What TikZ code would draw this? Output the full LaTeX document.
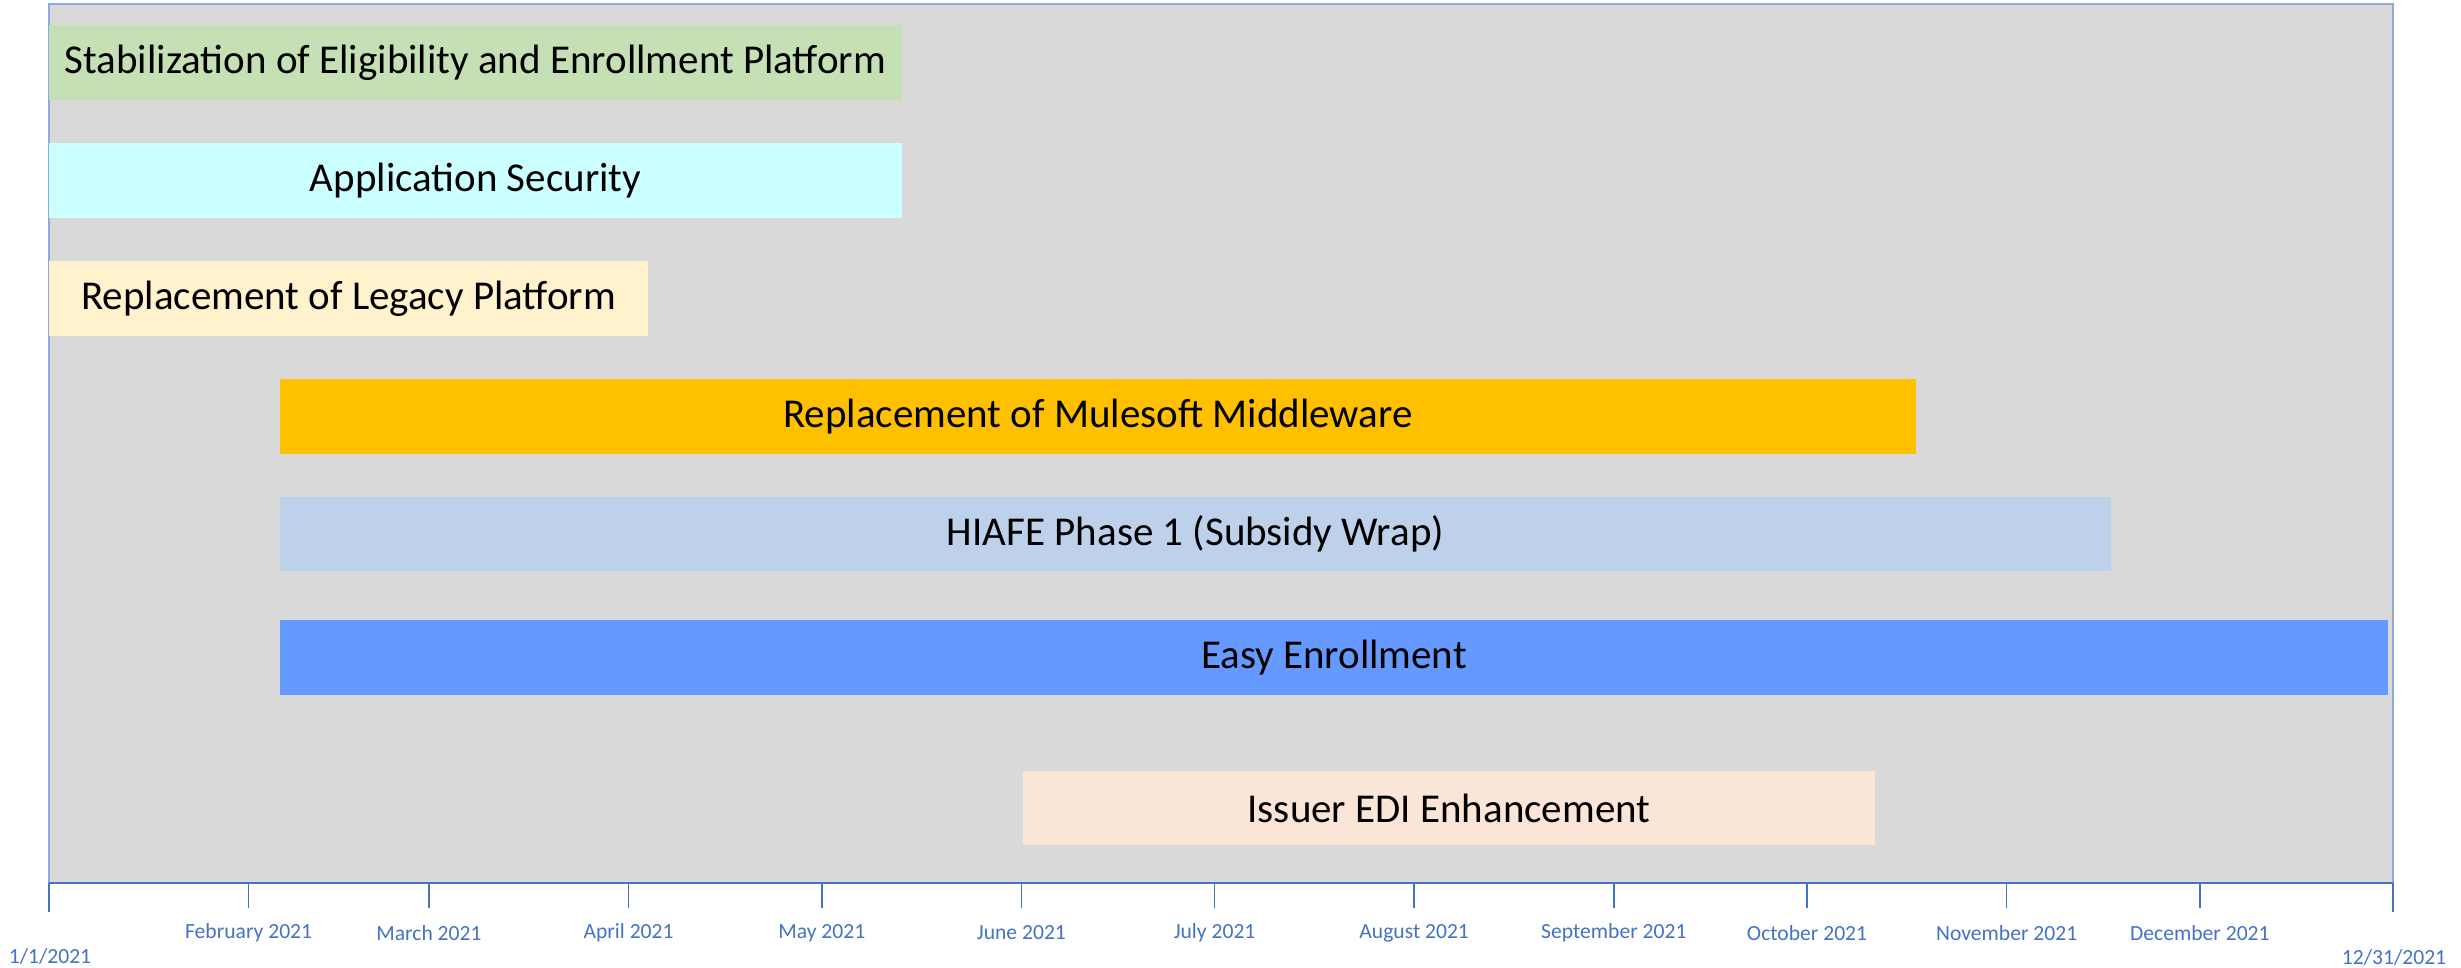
\documentclass[tikz,border=0pt]{standalone}
\usepackage{fontspec}
\setmainfont{Carlito}
\definecolor{bgray}{HTML}{D9D9D9}
\definecolor{frameblue}{HTML}{8FAADC}
\definecolor{axisblue}{HTML}{4472C4}
\definecolor{cgreen}{HTML}{C5E0B4}
\definecolor{ccyan}{HTML}{CCFFFF}
\definecolor{ccream}{HTML}{FFF2CC}
\definecolor{corange}{HTML}{FFC000}
\definecolor{clblue}{HTML}{BDD1EA}
\definecolor{cblue}{HTML}{6699FF}
\definecolor{cpeach}{HTML}{FBE5D6}
\begin{document}
\begin{tikzpicture}[x=0.5pt,y=-0.5pt,
  bar/.style={rectangle, inner sep=0pt, minimum height=37.5pt, text=black,
    font=\fontsize{20.5}{24}\selectfont},
  axislabel/.style={text=axisblue, inner sep=0pt, font=\fontsize{10.8}{13}\selectfont},
  tickline/.style={draw=axisblue, line width=0.8pt}]
\useasboundingbox (0,0) rectangle (2461,968);
% background panel
\fill[bgray] (49,4) rectangle (2393,883);
\draw[frameblue, line width=0.7pt] (49,883) -- (49,4) -- (2393,4) -- (2393,883);
% bars
\node[bar, fill=cgreen, minimum width=426.5pt] (stab) at (475.5,62.5) {Stabilization of Eligibility and Enrollment Platform};
\node[bar, fill=ccyan, minimum width=426.5pt] (appsec) at (475.5,180.5) {Application Security};
\node[bar, fill=ccream, minimum width=299.5pt] (legacy) at (348.5,298.5) {Replacement of Legacy Platform};
\node[bar, fill=corange, minimum width=818pt] (mule) at (1098,416.5) {Replacement of Mulesoft Middleware};
\node[bar, fill=clblue, minimum width=915.5pt, minimum height=37pt] (hiafe) at (1195.5,534) {HIAFE Phase 1 (Subsidy Wrap)};
\node[bar, fill=cblue, minimum width=1054pt] (easy) at (1334,657.5) {Easy Enrollment};
\node[bar, fill=cpeach, minimum width=426pt, minimum height=37pt] (edi) at (1449,808) {Issuer EDI Enhancement};
% axis
\coordinate (axstart) at (49,883);
\coordinate (axend) at (2393,883);
\draw[axisblue, line width=1.2pt] (axstart) -- (axend);
\coordinate (startbot) at (49,912);
\coordinate (endbot) at (2393,912);
\draw[tickline] (axstart) -- (startbot);
\draw[tickline] (axend) -- (endbot);
\foreach \d/\m [count=\i] in {31/February, 59/March, 90/April, 120/May, 151/June, 181/July, 212/August, 243/September, 273/October, 304/November, 334/December}{
  \pgfmathsetmacro{\xx}{49+6.4396*\d}
  \coordinate (tt\i) at (\xx,883);
  \coordinate (tb\i) at (\xx,908);
  \draw[tickline] (tt\i) -- (tb\i);
  \node[axislabel] (ml\i) at (\xx,933) {\m\ 2021};
}
\node[axislabel] (lstart) at (50,956) {1/1/2021};
\node[axislabel] (lend) at (2394,957) {12/31/2021};
\end{tikzpicture}
\end{document}
